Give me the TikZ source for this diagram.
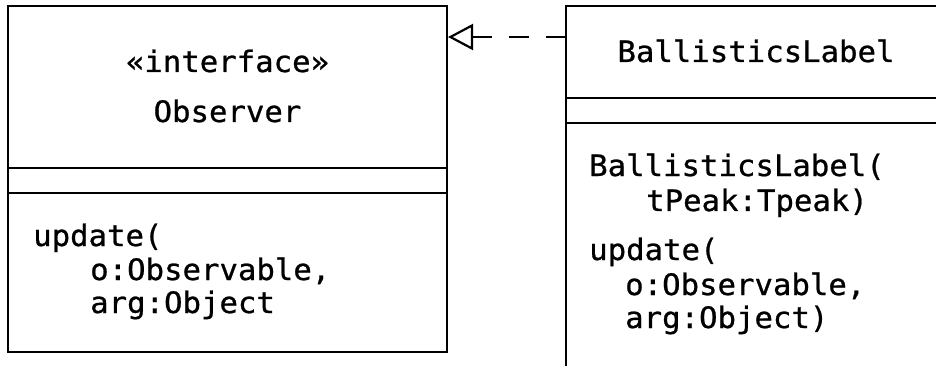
\documentclass[tikz,border=0pt]{standalone}
\usepackage{fontspec}
\usetikzlibrary{arrows.meta}
\newfontfamily\umlfont[FakeStretch=1.04, FakeBold=0.8]{DejaVu Sans Mono}
\tikzset{
  umlbox/.style={draw=black, line width=2.2pt, rectangle, inner sep=0pt},
  umltext/.style={inner sep=0pt, font=\umlfont\fontsize{29.5}{35}\selectfont, text=black},
  compline/.style={draw=black, line width=2.2pt},
  realize/.style={draw=black, line width=2.2pt, dash pattern=on 20pt off 17pt,
    -{Triangle[open, length=25pt, width=26pt, line width=2.2pt]}}
}
\begin{document}
\begin{tikzpicture}[x={(1pt,0pt)}, y={(0pt,-1pt)}]
\path[use as bounding box, clip] (0,0) rectangle (936,366);
% Observer box
\node[umlbox, minimum width=439pt, minimum height=346pt] (obs) at (227.5,179) {};
\coordinate (obsL1) at (8,168);  \coordinate (obsR1) at (447,168);
\coordinate (obsL2) at (8,193);  \coordinate (obsR2) at (447,193);
\draw[compline] (obsL1) -- (obsR1);
\draw[compline] (obsL2) -- (obsR2);
\node[umltext, anchor=base] (stereo) at (227.5,72) {«interface»};
\node[umltext, anchor=base] (obsname) at (227.5,122) {Observer};
\node[umltext, anchor=base west] (ou1) at (33,246) {update(};
\node[umltext, anchor=base west] (ou2) at (90,280) {o:Observable,};
\node[umltext, anchor=base west] (ou3) at (90,313) {arg:Object};
% BallisticsLabel box (extends past the picture edge)
\node[umlbox, minimum width=384pt, minimum height=400pt] (bl) at (758,206) {};
\coordinate (blL1) at (566,98);  \coordinate (blR1) at (950,98);
\coordinate (blL2) at (566,123); \coordinate (blR2) at (950,123);
\draw[compline] (blL1) -- (blR1);
\draw[compline] (blL2) -- (blR2);
\node[umltext, anchor=base] (blname) at (756,62) {BallisticsLabel};
\node[umltext, anchor=base west] (bc1) at (589,176) {BallisticsLabel(};
\node[umltext, anchor=base west] (bc2) at (646,211) {tPeak:Tpeak)};
\node[umltext, anchor=base west] (bu1) at (589,260) {update(};
\node[umltext, anchor=base west] (bu2) at (625,295) {o:Observable,};
\node[umltext, anchor=base west] (bu3) at (625,328) {arg:Object)};
% realization arrow
\coordinate (arrS) at (566,37);
\coordinate (arrE) at (448,37);
\draw[realize] (arrS) -- (arrE);
\end{tikzpicture}
\end{document}
